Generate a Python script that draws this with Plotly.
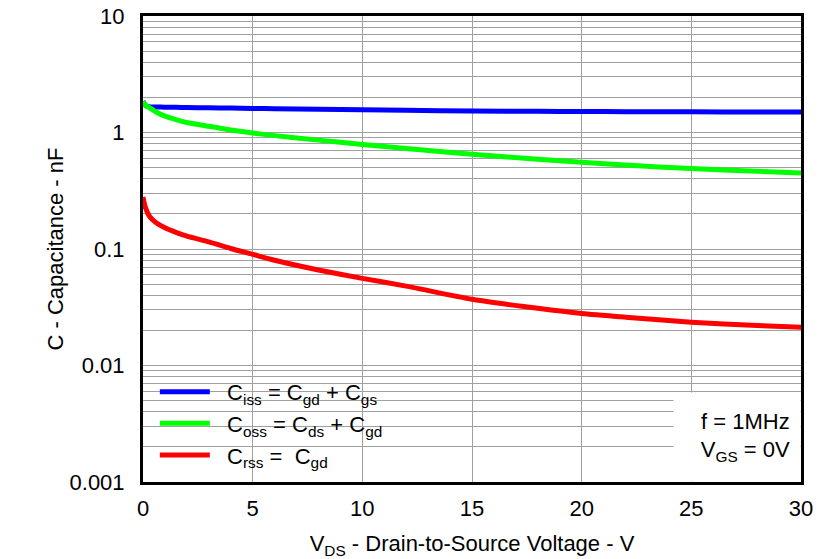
import plotly.graph_objects as go

# Drain-to-source voltage (V)
vds = [0, 0.1, 0.3, 0.6, 1, 1.5, 2, 3, 4, 5, 6, 8, 10, 12, 15, 18, 20, 22, 25, 28, 30]

# Capacitances (nF)
ciss = [1.85, 1.72, 1.66, 1.655, 1.65, 1.645, 1.64, 1.63, 1.62, 1.61, 1.60, 1.585, 1.57, 1.55, 1.53, 1.52, 1.515, 1.51, 1.505, 1.50, 1.50]
coss = [1.85, 1.72, 1.63, 1.50, 1.38, 1.29, 1.22, 1.13, 1.05, 0.99, 0.94, 0.86, 0.79, 0.73, 0.65, 0.59, 0.555, 0.525, 0.49, 0.465, 0.45]
crss = [0.28, 0.23, 0.19, 0.168, 0.152, 0.139, 0.129, 0.115, 0.101, 0.090, 0.080, 0.066, 0.056, 0.048, 0.037, 0.031, 0.028, 0.026, 0.0235, 0.022, 0.0213]

series_names = ["C<sub>iss</sub> = C<sub>gd</sub> + C<sub>gs</sub>",
                "C<sub>oss</sub> = C<sub>ds</sub> + C<sub>gd</sub>",
                "C<sub>rss</sub> =  C<sub>gd</sub>"]
series_colors = ["#0000ff", "#00ff00", "#ff0000"]

x_ticks = [0, 5, 10, 15, 20, 25, 30]
decades = [0.001, 0.01, 0.1, 1]
decade_labels = {0.001: "0.001", 0.01: "0.01", 0.1: "0.1", 1: "1", 10: "10"}

y_tickvals = []
y_ticktext = []
for d in decades:
    for k in range(1, 10):
        v = round(k * d, 6)
        y_tickvals.append(v)
        y_ticktext.append(decade_labels[d] if k == 1 else "")
y_tickvals.append(10)
y_ticktext.append("10")

FONT = "Liberation Sans, Arial, sans-serif"
FS = 22
GRID = "#a0a0a0"
PAD = "&nbsp;&nbsp;"

fig = go.Figure()
for name, ys, col in zip(series_names, [ciss, coss, crss], series_colors):
    fig.add_trace(go.Scatter(x=vds, y=ys, mode="lines", name=PAD + name,
                             line=dict(color=col, width=5, shape="spline", smoothing=0.6)))

fig.update_layout(
    width=839, height=559,
    margin=dict(l=143, r=38, t=16, b=77),
    paper_bgcolor="white", plot_bgcolor="white",
    font=dict(family=FONT, size=FS, color="black"),
    showlegend=True,
    legend=dict(x=0.018, y=0.013, xanchor="left", yanchor="bottom",
                bgcolor="rgba(0,0,0,0)", borderwidth=0,
                font=dict(family=FONT, size=FS, color="black"),
                itemwidth=50, tracegroupgap=0),
    xaxis=dict(range=[0, 30], tickvals=x_ticks, showgrid=True, gridcolor=GRID, gridwidth=1,
               showline=True, linecolor="black", linewidth=3, mirror=True,
               ticks="", zeroline=False, ticklabelstandoff=5, automargin=False,
               tickfont=dict(family=FONT, size=FS, color="black"),
               title=dict(text="V<sub>DS</sub> - Drain-to-Source Voltage - V",
                          font=dict(family=FONT, size=FS, color="black"), standoff=16)),
    yaxis=dict(type="log", range=[-3, 1], tickmode="array", tickvals=y_tickvals, ticktext=y_ticktext,
               showgrid=True, gridcolor=GRID, gridwidth=1,
               showline=True, linecolor="black", linewidth=3, mirror=True,
               ticks="", zeroline=False, ticklabelstandoff=11, automargin=False,
               tickfont=dict(family=FONT, size=FS, color="black"),
               title=dict(text="C - Capacitance - nF",
                          font=dict(family=FONT, size=FS, color="black"), standoff=0)),
)

# white panel behind the legend (covers gridlines, below the curves)
fig.add_shape(type="rect", xref="paper", yref="paper", x0=0, x1=0.398, y0=0, y1=0.24,
              fillcolor="white", line=dict(width=0), layer="between")

fig.add_annotation(xref="paper", yref="paper", x=1, y=0, xanchor="right", yanchor="bottom",
                   text="f = 1MHz<br>V<sub>GS</sub> = 0V", showarrow=False, align="right",
                   bgcolor="white", width=106, height=68, borderpad=10,
                   font=dict(family=FONT, size=FS, color="black"))

fig.write_html("out.html", config={"displayModeBar": False},
               post_script="document.body.style.margin='0';")
